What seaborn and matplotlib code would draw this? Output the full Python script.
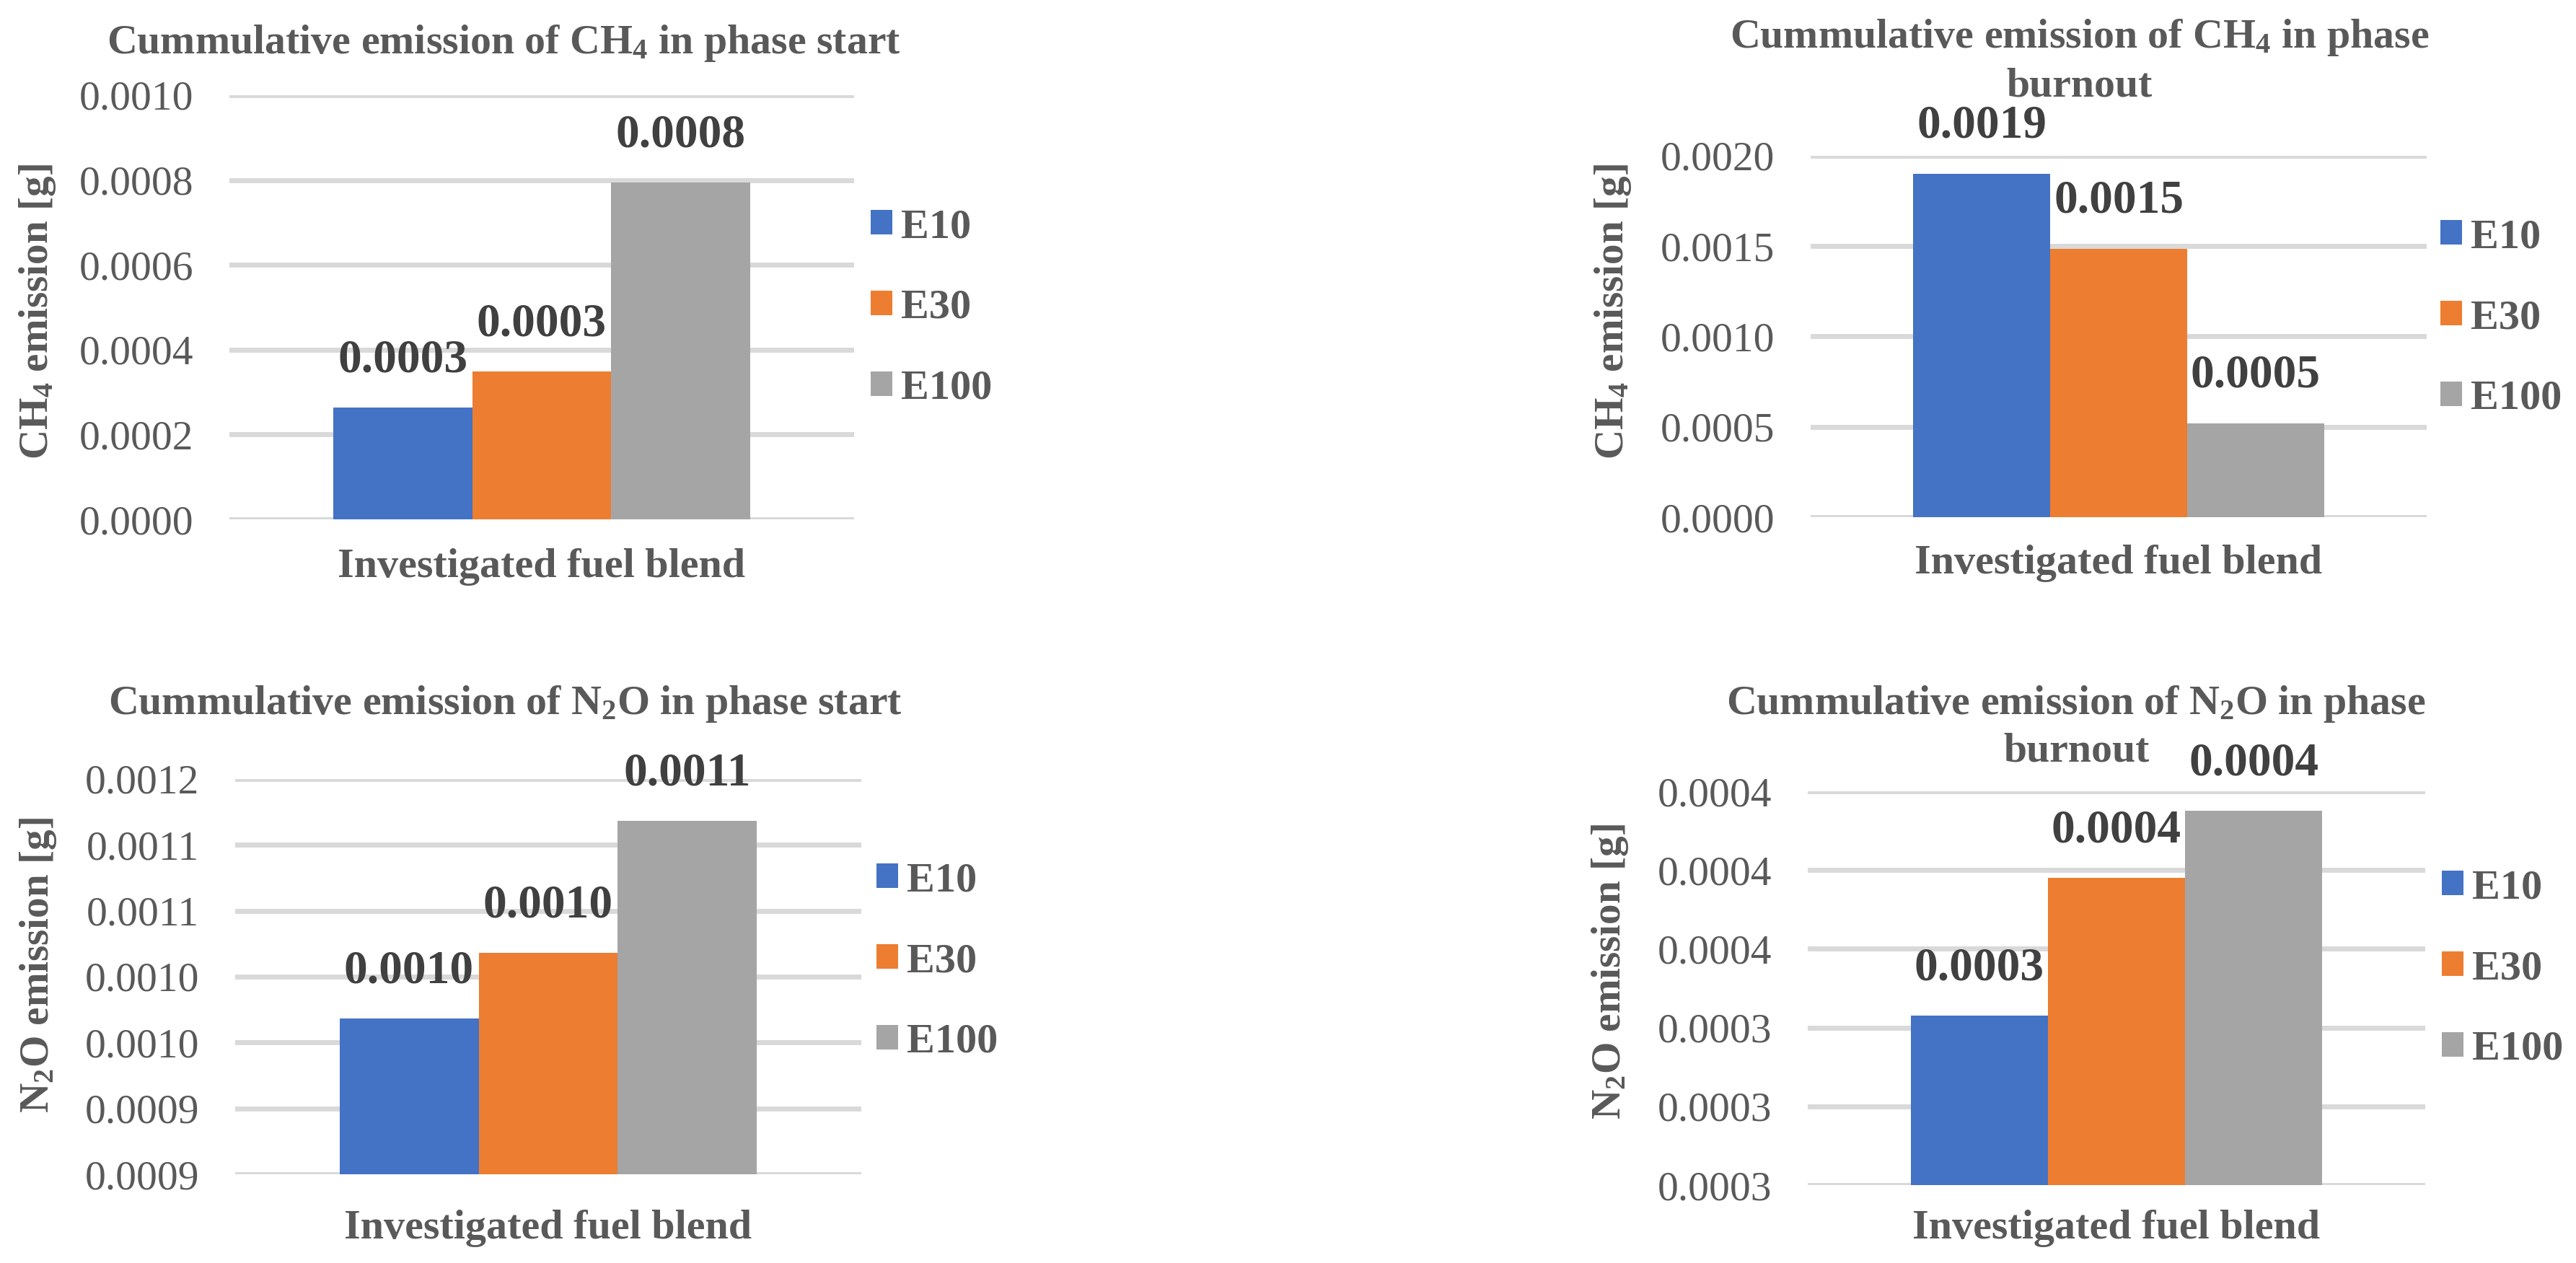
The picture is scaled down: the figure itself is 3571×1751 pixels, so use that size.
import matplotlib
matplotlib.use("Agg")
import matplotlib.pyplot as plt
import seaborn as sns
import pandas as pd

# ---------------- data ----------------
fuels = ["E10", "E30", "E100"]
colors = ["#4472C4", "#ED7D31", "#A5A5A5"]

ch4_start = [0.000263, 0.000348, 0.000794]
ch4_start_labels = ["0.0003", "0.0003", "0.0008"]
ch4_start_ticks = [0.0, 0.0002, 0.0004, 0.0006, 0.0008, 0.0010]
ch4_start_ticklabels = ["0.0000", "0.0002", "0.0004", "0.0006", "0.0008", "0.0010"]

ch4_burn = [0.00190, 0.001485, 0.000519]
ch4_burn_labels = ["0.0019", "0.0015", "0.0005"]
ch4_burn_ticks = [0.0, 0.0005, 0.0010, 0.0015, 0.0020]
ch4_burn_ticklabels = ["0.0000", "0.0005", "0.0010", "0.0015", "0.0020"]

n2o_start = [0.000998, 0.001048, 0.001148]
n2o_start_labels = ["0.0010", "0.0010", "0.0011"]
n2o_start_ticks = [0.00088, 0.00093, 0.00098, 0.00103, 0.00108, 0.00113, 0.00118]
n2o_start_ticklabels = ["0.0009", "0.0009", "0.0010", "0.0010", "0.0011", "0.0011", "0.0012"]

n2o_burn = [0.000343, 0.000378, 0.000395]
n2o_burn_labels = ["0.0003", "0.0004", "0.0004"]
n2o_burn_ticks = [0.00030, 0.00032, 0.00034, 0.00036, 0.00038, 0.00040]
n2o_burn_ticklabels = ["0.0003", "0.0003", "0.0003", "0.0004", "0.0004", "0.0004"]

titles = [
    ["Cummulative emission of CH$_4$ in phase start"],
    ["Cummulative emission of CH$_4$ in phase", "burnout"],
    ["Cummulative emission of N$_2$O in phase start"],
    ["Cummulative emission of N$_2$O in phase", "burnout"],
]
ylabels = ["CH$_4$ emission [g]", "CH$_4$ emission [g]",
           "N$_2$O emission [g]", "N$_2$O emission [g]"]
xlabel = "Investigated fuel blend"

# ---------------- style ----------------
sns.set_theme(style="white")
plt.rcParams["font.family"] = ["Liberation Serif", "DejaVu Serif"]
plt.rcParams["mathtext.fontset"] = "custom"
plt.rcParams["mathtext.rm"] = "Liberation Serif:bold"
plt.rcParams["mathtext.it"] = "Liberation Serif:bold:italic"
plt.rcParams["mathtext.bf"] = "Liberation Serif:bold"

TXT = "#595959"
LBL = "#404040"
GRID = "#D9D9D9"

W, H = 3571, 1751
fig = plt.figure(figsize=(W / 100, H / 100), dpi=100)
renderer = fig.canvas.get_renderer()


def fit_size(s, target_px, weight, base=40.0):
    t = fig.text(0, 0, s, fontsize=base, fontweight=weight)
    w = t.get_window_extent(renderer).width
    t.remove()
    return base * target_px / w


FS_TITLE = fit_size(titles[0][0], 1100, "bold")
FS_YLAB = fit_size(ylabels[0], 410, "bold")
FS_XLAB = fit_size(xlabel, 564, "bold")
FS_TICK = fit_size("0.0010", 158, "normal")
FS_DATA = fit_size("0.0008", 180, "bold")
FS_LEG = fit_size("E100", 126, "bold")


def fx(px):
    return px / W


def fy(py):
    return 1 - py / H


# (values, labels, ticks, ticklabels, axes box px [x0,x1,ytop,ybot],
#  title center x px, title baselines px, ylabel center (axes coords),
#  xlabel top (axes coords), legend anchor px)
panels = [
    (ch4_start, ch4_start_labels, ch4_start_ticks, ch4_start_ticklabels,
     (318, 1184, 132, 720), 698, [74], (-0.307, 0.490), -0.068, (1207, 427)),
    (ch4_burn, ch4_burn_labels, ch4_burn_ticks, ch4_burn_ticklabels,
     (2510, 3364, 216, 717), 2883, [66, 134], (-0.321, 0.569), -0.076, (3383, 441)),
    (n2o_start, n2o_start_labels, n2o_start_ticks, n2o_start_ticklabels,
     (326, 1194, 1080, 1628), 700, [990], (-0.315, 0.529), -0.089, (1215, 1333)),
    (n2o_burn, n2o_burn_labels, n2o_burn_ticks, n2o_burn_ticklabels,
     (2506, 3362, 1097, 1643), 2878, [990, 1055], (-0.320, 0.542), -0.062, (3385, 1343)),
]

for i, (vals, labs, ticks, tlabs, box, tcx, tbase, ylc, xlc, lpos) in enumerate(panels):
    x0, x1, yt, yb = box
    ax = fig.add_axes([fx(x0), fy(yb), fx(x1) - fx(x0), (yb - yt) / H])
    df = pd.DataFrame({"cat": [""] * len(fuels), "fuel": fuels, "value": vals})
    sns.barplot(data=df, x="cat", y="value", hue="fuel", hue_order=fuels,
                palette=colors, width=0.667, saturation=1, ax=ax, legend=True,
                linewidth=0, errorbar=None)
    ax.set_xlim(-0.5, 0.5)
    ax.set_ylim(ticks[0], ticks[-1])
    ax.set_yticks(ticks)
    ax.set_yticklabels(tlabs)
    ax.set_axisbelow(True)
    ax.yaxis.grid(True, color=GRID, linewidth=5)
    ax.xaxis.grid(False)
    for s in ax.spines.values():
        s.set_visible(False)
    ax.tick_params(axis="y", length=0, pad=36, labelsize=FS_TICK, labelcolor=TXT)
    ax.tick_params(axis="x", length=0, labelbottom=False)

    for cont, lab in zip(ax.containers, labs):
        ax.bar_label(cont, labels=[lab], padding=26, fontsize=FS_DATA,
                     fontweight="bold", color=LBL)

    ax.set_ylabel(ylabels[i], fontsize=FS_YLAB, fontweight="bold", color=TXT,
                  va="center", ha="center")
    ax.yaxis.set_label_coords(*ylc)
    ax.set_xlabel(xlabel, fontsize=FS_XLAB, fontweight="bold", color=TXT)
    ax.xaxis.set_label_coords(0.5, xlc)

    for line, base in zip(titles[i], tbase):
        fig.text(fx(tcx), fy(base), line, ha="center", va="baseline",
                 fontsize=FS_TITLE, fontweight="bold", color=TXT)

    leg = ax.legend(loc="center left", bbox_to_anchor=(fx(lpos[0]), fy(lpos[1])),
                    bbox_transform=fig.transFigure, frameon=False,
                    borderpad=0, borderaxespad=0, fontsize=FS_LEG,
                    handlelength=0.52, handleheight=0.52, handletextpad=0.2,
                    labelspacing=1.03, title=None)
    for t in leg.get_texts():
        t.set_color(TXT)
        t.set_fontweight("bold")

fig.savefig("out.png", dpi=100, facecolor="white")
